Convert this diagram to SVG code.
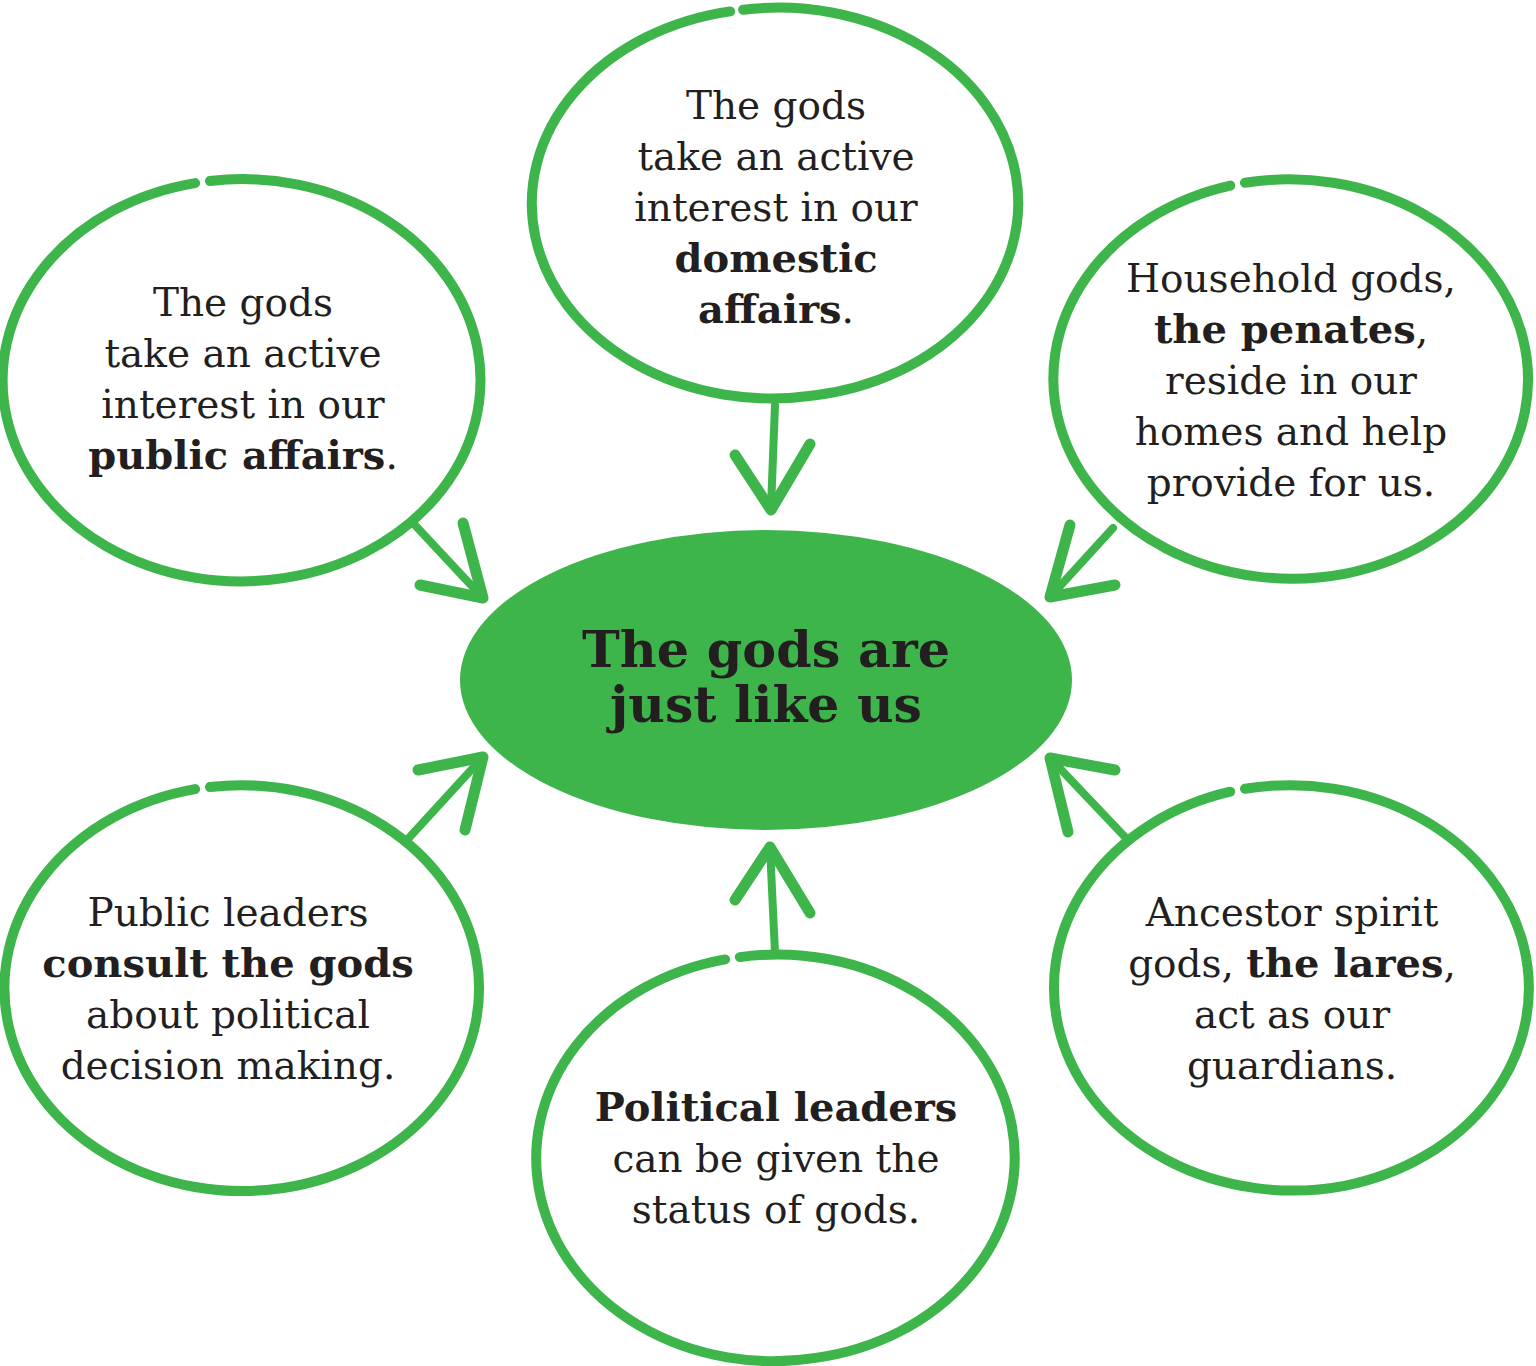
<svg xmlns="http://www.w3.org/2000/svg" width="1536" height="1366" viewBox="0 0 1536 1366">
<style>
.ring{fill:none;stroke:#3db54a;stroke-width:10;stroke-linecap:round}
.hub{fill:#3db54a}
.t{font-family:"DejaVu Serif","Liberation Serif",serif;font-size:39px;fill:#231f20;text-anchor:middle}
.b{font-weight:bold;font-size:40px}
.c{font-family:"DejaVu Serif","Liberation Serif",serif;font-size:50px;font-weight:bold;fill:#231f20;text-anchor:middle}
.shaft{fill:none;stroke:#3db54a;stroke-width:8;stroke-linecap:round}
.head{fill:none;stroke:#3db54a;stroke-width:11;stroke-linecap:round;stroke-linejoin:round}
</style>
<rect width="1536" height="1366" fill="#ffffff"/>
<g id="center">
<ellipse class="hub" cx="766" cy="680" rx="306" ry="150"/>
<text class="c" x="766" y="667" textLength="368" lengthAdjust="spacingAndGlyphs">The gods are</text>
<text class="c" x="766" y="722" textLength="312" lengthAdjust="spacingAndGlyphs">just like us</text>
</g>
<g id="top">
<path class="ring" d="M 743.1 9.7 A 240 195 0 0 1 813.4 395.5 A 240 195 0 0 1 730.2 11.4"/>
<text class="t" x="776" y="119">The gods</text>
<text class="t" x="776" y="170">take an active</text>
<text class="t" x="776" y="221">interest in our</text>
<text class="t b" x="776" y="272">domestic</text>
<text class="t" x="776" y="323"><tspan class="b">affairs</tspan>.</text>
</g>
<g id="upper-left">
<path class="ring" d="M 209.9 181 A 238 201 0 0 1 283.5 578.1 A 238 201 0 0 1 195.1 183.1"/>
<text class="t" x="243" y="316">The gods</text>
<text class="t" x="243" y="367">take an active</text>
<text class="t" x="243" y="418">interest in our</text>
<text class="t" x="243" y="469"><tspan class="b">public affairs</tspan>.</text>
</g>
<g id="upper-right">
<path class="ring" d="M 1244.9 182.8 A 239 200 0 0 1 1344.5 573.9 A 239 200 0 0 1 1230.2 185.6"/>
<text class="t" x="1291" y="292">Household gods,</text>
<text class="t" x="1291" y="343"><tspan class="b">the penates</tspan>,</text>
<text class="t" x="1291" y="394">reside in our</text>
<text class="t" x="1291" y="445">homes and help</text>
<text class="t" x="1291" y="496">provide for us.</text>
</g>
<g id="lower-left">
<path class="ring" d="M 209.9 787 A 238 203 0 0 1 283.5 1188 A 238 203 0 0 1 195.1 789.1"/>
<text class="t" x="228" y="926">Public leaders</text>
<text class="t b" x="228" y="977">consult the gods</text>
<text class="t" x="228" y="1028">about political</text>
<text class="t" x="228" y="1079">decision making.</text>
</g>
<g id="lower-right">
<path class="ring" d="M 1244.9 788.8 A 239 203 0 0 1 1344.5 1185.8 A 239 203 0 0 1 1230.2 791.7"/>
<text class="t" x="1292" y="926">Ancestor spirit</text>
<text class="t" x="1292" y="977">gods, <tspan class="b">the lares</tspan>,</text>
<text class="t" x="1292" y="1028">act as our</text>
<text class="t" x="1292" y="1079">guardians.</text>
</g>
<g id="bottom">
<path class="ring" d="M 739.8 957.1 A 237 203 0 0 1 815.6 1357.9 A 237 203 0 0 1 725.1 959.4"/>
<text class="t b" x="776" y="1121">Political leaders</text>
<text class="t" x="776" y="1172">can be given the</text>
<text class="t" x="776" y="1223">status of gods.</text>
</g>
<g id="connectors">
<path class="shaft" d="M 775 405 L 771 508"/>
<path class="head" d="M 735 455 L 771 510 L 810 444"/>
<path class="shaft" d="M 413 523 L 483 598"/>
<path class="head" d="M 463 523 L 483 598 L 420 585"/>
<path class="shaft" d="M 1113 528 L 1050 597"/>
<path class="head" d="M 1070 525 L 1050 597 L 1115 585"/>
<path class="shaft" d="M 407 840 L 483 757"/>
<path class="head" d="M 418 770 L 483 757 L 465 830"/>
<path class="shaft" d="M 1125 837 L 1050 758"/>
<path class="head" d="M 1115 770 L 1050 758 L 1068 832"/>
<path class="shaft" d="M 775 953 L 770 847"/>
<path class="head" d="M 735 900 L 770 847 L 810 913"/>
</g>
</svg>
